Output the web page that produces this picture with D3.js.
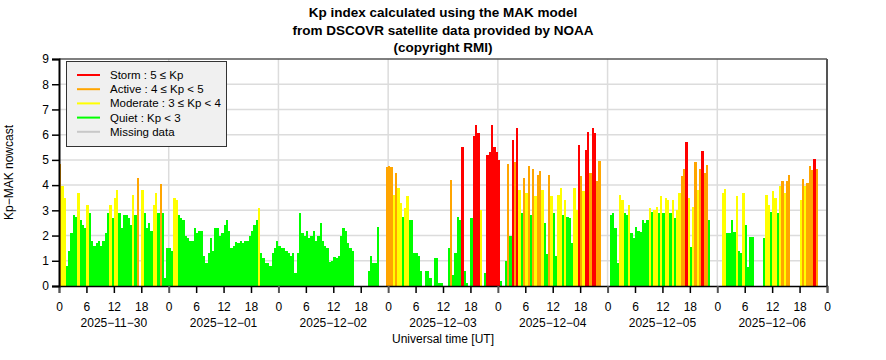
<!DOCTYPE html>
<html>
<head>
<meta charset="utf-8">
<script src="https://cdn.jsdelivr.net/npm/d3@7"></script>
<style>
body { margin: 0; background: #fff; }
svg { display: block; font-family: "Liberation Sans", Arial, Helvetica, sans-serif; }
</style>
</head>
<body>
<div id="chart"></div>
<script>
// half-hourly Kp nowcast per UT day, null = no data
const dayLabels = ["2025\u221211\u221230", "2025\u221212\u221201", "2025\u221212\u221202", "2025\u221212\u221203",
    "2025\u221212\u221204", "2025\u221212\u221205", "2025\u221212\u221206"];

const kpNov30 = [4.85, 3.95, 3.5, 0.8, 1.4, 2.1, 2.8, 2.75, 3.7, 2.6, 2.4, 2.3,
    3.2, 2.9, 1.8, 1.6, 1.7, 1.8, 1.6, 1.8, 2.1, 2.9, 3.2, 2.7,
    3.5, 3.8, 2.9, 2.3, 2.8, 2.8, 2.7, 2.4, 3.6, 2.8, 4.3, null,
    3.8, 2.9, 2.3, 2.5, 2.2, 3.2, 3.7, 2.9, 4.05, 2.9, 0.3, 1.5];
const kpDec01 = [1.5, 1.4, 3.5, 3.4, 2.8, 2.7, 2.6, 2.0, 1.9, 1.8, 1.8, 2.3,
    2.1, 2.2, 2.2, 1.2, 0.9, 1.3, 1.9, 1.4, 2.3, 2.3, 2.0, 2.1,
    2.4, 2.6, 2.2, 1.5, 1.6, 1.75, 1.7, 1.8, 1.7, 1.8, 1.8, 2.0,
    2.2, 2.4, 2.6, 3.1, 1.3, 1.1, 0.9, 0.9, 0.8, 1.3, 1.5, 1.8];
const kpDec02 = [1.6, 1.5, 1.5, 1.4, 1.3, 1.2, 1.3, 0.5, 1.3, 2.9, 2.1, 2.0,
    2.2, 1.9, 2.0, 2.2, 1.8, 2.0, 2.5, 1.8, 1.6, 1.5, 0.95, 1.0,
    1.15, 1.1, 1.2, 2.0, 2.3, 2.2, 1.7, 1.5, 1.4, null, null, null,
    null, null, null, 0.6, 1.2, 0.9, 0.9, 2.35, null, null, null, 4.7];
const kpDec03 = [4.75, 4.7, 3.6, 4.5, 3.9, 3.3, 2.75, 3.1, 3.55, 2.6, 2.6, 1.3,
    1.3, 1.2, 0.6, null, 0.6, 0.6, 0.3, null, 1.1, 1.1, 0.1, 0.1,
    null, null, 1.5, 4.2, 0.45, 1.3, 2.75, 2.6, 5.5, 0.6, 0.1, null,
    2.7, 5.95, 6.4, 6.05, 3.0, null, 0.5, 5.2, 5.3, 6.4, 5.5, 5.3];
const kpDec04 = [5.0, 0.2, null, 1.0, 4.85, 2.0, 5.8, 4.9, 6.25, 3.8, 2.9, 4.3,
    3.7, 4.75, 2.8, 4.65, 3.55, 4.4, 4.55, 3.8, 2.5, 1.25, 4.4, 3.55,
    2.9, 1.2, 3.6, 3.9, 2.8, 3.4, 2.75, 2.7, 1.7, 3.9, 3.0, 5.6,
    4.35, 3.75, 5.4, 6.1, 4.5, 6.25, 6.05, 4.15, 4.95, null, null, null];
const kpDec05 = [null, 2.8, 2.9, 2.3, 0.9, 3.6, 3.4, 2.9, 2.8, 3.2, 2.1, 1.9,
    2.35, 2.2, 2.15, 2.6, 2.5, 2.6, 3.1, 2.95, 3.0, 3.15, 2.9, 3.55,
    2.9, 3.5, 3.4, 2.9, 3.4, 2.7, 3.0, 3.7, 4.35, 4.65, 5.7, 3.5,
    1.55, 3.15, 4.9, 3.8, 4.65, 5.35, 4.5, 4.8, 2.6, null, null, null];
const kpDec06 = [null, null, 3.7, 3.85, 2.1, 2.1, 2.6, 2.15, 3.55, 1.4, 1.3, 3.7,
    2.4, 0.75, 1.95, 1.95, null, null, null, null, 1.9, 3.6, 3.2, 2.95,
    3.75, 3.5, 2.9, 3.95, 4.15, 3.7, 4.15, 4.4, null, null, null, null,
    3.4, 4.25, 3.95, 4.1, 4.75, 4.6, 5.05, 4.65, null, null, null, null];

const kpByDay = [kpNov30, kpDec01, kpDec02, kpDec03, kpDec04, kpDec05, kpDec06];

const yTicks = [0, 1, 2, 3, 4, 5, 6, 7, 8, 9];
const hourTicks = [0, 6, 12, 18];
const titleLines = ["Kp index calculated using the MAK model",
    "from DSCOVR satellite data provided by NOAA",
    "(copyright RMI)"];
const legendLabels = ["Storm : 5 \u2264 Kp", "Active : 4 \u2264 Kp < 5",
    "Moderate : 3 \u2264 Kp < 4", "Quiet : Kp < 3", "Missing data"];
const legendColors = ["#ff0000", "#ffa500", "#ffff00", "#00ff00", "#c8c8c8"];

const W = 886, H = 360;
const margin = {top: 59, right: 59, bottom: 74, left: 59};
const stepMs = 30 * 60 * 1000;

let data = [];
kpByDay.forEach((vals, d) => {
    vals.forEach((v, i) => {
        if (v === null) return;
        data.push({t: new Date(Date.UTC(2025, 10, 30 + d, 0, 30 * i)), kp: v});
    });
});

const x = d3.scaleUtc()
    .domain([new Date(Date.UTC(2025, 10, 30)), new Date(Date.UTC(2025, 11, 7))])
    .range([margin.left, W - margin.right]);
const y = d3.scaleLinear()
    .domain([0, 9])
    .range([H - margin.bottom, margin.top]);
const color = d3.scaleThreshold()
    .domain([3, 4, 5])
    .range(["#00ff00", "#ffff00", "#ffa500", "#ff0000"]);

const svg = d3.select("#chart")
    .append("svg")
        .attr("width", W)
        .attr("height", H);

// grid
svg.append("g")
    .selectAll("line")
    .data(yTicks.slice(1, 9))
    .join("line")
    .attr("x1", x.range()[0]).attr("x2", x.range()[1])
    .attr("y1", d => y(d)).attr("y2", d => y(d))
    .attr("stroke", "#dcdcdc").attr("stroke-width", 1.5);

const dayStarts = d3.utcDay.range(x.domain()[0], x.domain()[1]).slice(1);
svg.append("g")
    .selectAll("line")
    .data(dayStarts)
    .join("line")
    .attr("x1", d => x(d)).attr("x2", d => x(d))
    .attr("y1", y(9)).attr("y2", y(0))
    .attr("stroke", "#dcdcdc").attr("stroke-width", 1.5);

// bars
svg.append("g")
    .attr("shape-rendering", "crispEdges")
    .selectAll("rect")
    .data(data)
    .join("rect")
    .attr("x", d => x(d.t))
    .attr("width", d => x(new Date(+d.t + stepMs)) - x(d.t))
    .attr("y", d => y(d.kp))
    .attr("height", d => y(0) - y(d.kp))
    .attr("fill", d => color(d.kp));

// frame
svg.append("line")
    .attr("x1", x.range()[0]).attr("x2", x.range()[1])
    .attr("y1", y(9)).attr("y2", y(9))
    .attr("stroke", "#555").attr("stroke-width", 1.5);
svg.append("line")
    .attr("x1", x.range()[1]).attr("x2", x.range()[1])
    .attr("y1", y(9)).attr("y2", y(0))
    .attr("stroke", "#555").attr("stroke-width", 2);

// axes
const xAxis = svg.append("g")
    .attr("transform", `translate(0,${y(0)})`)
    .call(d3.axisBottom(x)
        .ticks(d3.utcHour.every(6))
        .tickSize(7)
        .tickPadding(9)
        .tickFormat(d3.utcFormat("%-H")));
xAxis.select(".domain").attr("stroke", "#000").attr("stroke-width", 1.5);
xAxis.selectAll(".tick line")
    .attr("stroke", d => d.getUTCHours() === 0 ? "#555" : "#000")
    .attr("stroke-width", d => d.getUTCHours() === 0 ? 2 : 1.5);
xAxis.selectAll("text").attr("font-size", 12).attr("font-family", null).attr("fill", "#000");

const yAxis = svg.append("g")
    .attr("transform", `translate(${margin.left},0)`)
    .call(d3.axisLeft(y).tickValues(yTicks).tickSize(7).tickPadding(3));
yAxis.select(".domain").attr("stroke", "#000").attr("stroke-width", 2);
yAxis.selectAll(".tick line").attr("stroke", "#000").attr("stroke-width", 1.5);
yAxis.selectAll("text").attr("font-size", 12).attr("font-family", null).attr("fill", "#000");

// date labels under the hour ticks
svg.append("g")
    .selectAll("text")
    .data(dayLabels)
    .join("text")
    .attr("x", (d, i) => x(new Date(Date.UTC(2025, 10, 30 + i, 12))))
    .attr("y", 327)
    .attr("text-anchor", "middle")
    .attr("font-size", 12)
    .text(d => d);

svg.append("text")
    .attr("x", (x.range()[0] + x.range()[1]) / 2)
    .attr("y", 343)
    .attr("text-anchor", "middle")
    .attr("font-size", 12)
    .text("Universal time [UT]");

svg.append("text")
    .attr("transform", `translate(13,${(y(0) + y(9)) / 2}) rotate(-90)`)
    .attr("text-anchor", "middle")
    .attr("font-size", 12)
    .text("Kp\u2212MAK nowcast");

// title
svg.append("g")
    .selectAll("text")
    .data(titleLines)
    .join("text")
    .attr("x", (x.range()[0] + x.range()[1]) / 2)
    .attr("y", (d, i) => 17 + i * 17.5)
    .attr("text-anchor", "middle")
    .attr("font-size", 13.5)
    .attr("font-weight", "bold")
    .text(d => d);

// legend
const legend = svg.append("g");
legend.append("rect")
    .attr("x", 66.5).attr("y", 61.5)
    .attr("width", 160).attr("height", 85)
    .attr("fill", "#f0f0f0")
    .attr("stroke", "#333");
legendLabels.forEach((label, i) => {
    let ly = 75 + i * 14.2;
    legend.append("line")
        .attr("x1", 77).attr("x2", 100)
        .attr("y1", ly).attr("y2", ly)
        .attr("stroke", legendColors[i]).attr("stroke-width", 2);
    legend.append("text")
        .attr("x", 110).attr("y", ly)
        .attr("dy", "0.35em")
        .attr("font-size", 11.5)
        .text(label);
});
</script>
</body>
</html>
